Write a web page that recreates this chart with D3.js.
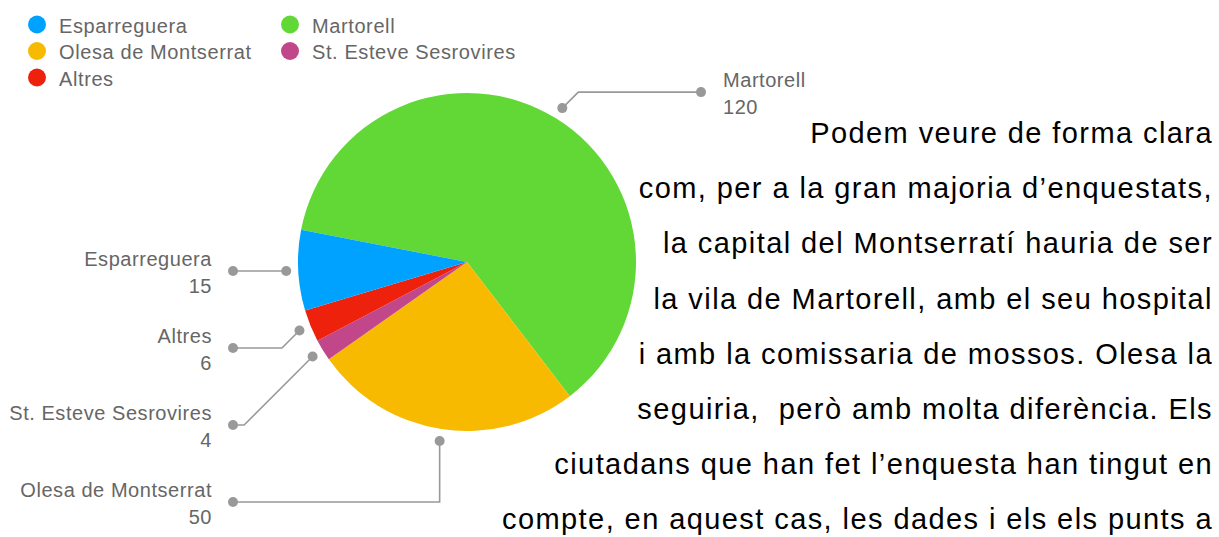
<!DOCTYPE html>
<html>
<head>
<meta charset="utf-8">
<script src="https://cdn.jsdelivr.net/npm/d3@7"></script>
<style>
  html, body { margin: 0; padding: 0; background: #fff; }
  svg { display: block; font-family: 'Liberation Sans', Arial, Helvetica, sans-serif; }
</style>
</head>
<body>
<div id="chart"></div>
<script>
// data
const categories = ['Martorell', 'Olesa de Montserrat', 'St. Esteve Sesrovires', 'Altres', 'Esparreguera'];
const values = [120, 50, 4, 6, 15];
const sliceColors = ['#61d836', '#f8ba00', '#c1478a', '#ee220c', '#00a2ff'];
const legendOrder = ['Esparreguera', 'Martorell', 'Olesa de Montserrat', 'St. Esteve Sesrovires', 'Altres'];
const paragraph = [
  'Podem veure de forma clara',
  'com, per a la gran majoria d\u2019enquestats,',
  'la capital del Montserratí hauria de ser',
  'la vila de Martorell, amb el seu hospital',
  'i amb la comissaria de mossos. Olesa la',
  'seguiria,  però amb molta diferència. Els',
  'ciutadans que han fet l\u2019enquesta han tingut en',
  'compte, en aquest cas, les dades i els els punts a'
];

const width = 1219;
const height = 537;
const cx = 467, cy = 262, radius = 169;
const dotRadius = 181;
const startDeg = -79;

const data = categories.map((name, i) => ({ name, value: values[i], color: sliceColors[i] }));
const colorOf = d3.scaleOrdinal().domain(categories).range(sliceColors);

const svg = d3.select('#chart')
  .append('svg')
  .attr('width', width)
  .attr('height', height);

// pie
const pie = d3.pie()
  .sort(null)
  .value(d => d.value)
  .startAngle(startDeg * Math.PI / 180)
  .endAngle((startDeg + 360) * Math.PI / 180);

const arc = d3.arc().innerRadius(0).outerRadius(radius);
const arcs = pie(data);

const pieG = svg.append('g').attr('transform', `translate(${cx},${cy})`);
pieG.selectAll('path')
  .data(arcs)
  .enter()
  .append('path')
  .attr('d', arc)
  .attr('fill', d => d.data.color);

// leader lines + labels
const leaders = arcs.map(a => {
  const mid = (a.startAngle + a.endAngle) / 2;
  const s = Math.sin(mid), c = Math.cos(mid);
  return {
    d: a.data, s,
    side: s > 0 ? 'right' : 'left',
    dot: [cx + dotRadius * s, cy - dotRadius * c]
  };
});

// spread left labels downwards so they don't overlap
const gap = 77;
const left = leaders.filter(l => l.side === 'left').sort((a, b) => a.dot[1] - b.dot[1]);
let prev = -Infinity;
left.forEach(l => {
  l.labelY = Math.max(l.dot[1], prev + gap);
  prev = l.labelY;
});
leaders.filter(l => l.side === 'right').forEach(l => { l.labelY = l.dot[1] - 16; });

const leftX = 233, rightX = 701;
leaders.forEach(l => {
  const dir = l.side === 'left' ? -1 : 1;
  const dy = Math.abs(l.labelY - l.dot[1]);
  const elbow = Math.abs(l.s) < 0.3 ? [l.dot[0], l.labelY] : [l.dot[0] + dir * dy, l.labelY];
  const end = [l.side === 'left' ? leftX : rightX, l.labelY];
  l.points = [l.dot, elbow, end];
  l.end = end;
});

const lg = svg.append('g');
lg.selectAll('path')
  .data(leaders)
  .enter()
  .append('path')
  .attr('d', l => d3.line()(l.points))
  .attr('fill', 'none')
  .attr('stroke', '#999')
  .attr('stroke-width', 1.6);

lg.selectAll('circle.dotIn')
  .data(leaders)
  .enter()
  .append('circle')
  .attr('cx', l => l.dot[0])
  .attr('cy', l => l.dot[1])
  .attr('r', 5)
  .attr('fill', '#999');

lg.selectAll('circle.dotOut')
  .data(leaders)
  .enter()
  .append('circle')
  .attr('cx', l => l.end[0])
  .attr('cy', l => l.end[1])
  .attr('r', 5)
  .attr('fill', '#999');

const labels = lg.selectAll('text')
  .data(leaders)
  .enter()
  .append('text')
  .attr('text-anchor', l => l.side === 'left' ? 'end' : 'start')
  .attr('fill', '#666')
  .style('font-size', '20px')
  .style('letter-spacing', '0.55px');

labels.append('tspan')
  .attr('x', l => l.side === 'left' ? l.end[0] - 21 : l.end[0] + 22)
  .attr('y', l => l.labelY - 5)
  .text(l => l.d.name);

labels.append('tspan')
  .attr('x', l => l.side === 'left' ? l.end[0] - 21 : l.end[0] + 22)
  .attr('y', l => l.labelY + 22)
  .text(l => l.d.value);

// legend (two columns)
const legend = svg.append('g');
const legItems = legend.selectAll('g')
  .data(legendOrder)
  .enter()
  .append('g')
  .attr('transform', (d, i) => `translate(${i % 2 === 0 ? 37 : 290},${24.5 + Math.floor(i / 2) * 26.5})`);

legItems.append('circle')
  .attr('r', 9)
  .attr('fill', d => colorOf(d));

legItems.append('text')
  .attr('x', 22)
  .attr('y', 8)
  .attr('fill', '#666')
  .style('font-size', '20px')
  .style('letter-spacing', '0.6px')
  .text(d => d);

// paragraph on the right
svg.append('g')
  .selectAll('text')
  .data(paragraph)
  .enter()
  .append('text')
  .attr('x', 1213)
  .attr('y', (d, i) => 143 + i * 55.2)
  .attr('text-anchor', 'end')
  .attr('fill', '#000')
  .style('font-size', '29px')
  .style('letter-spacing', '1.42px')
  .style('white-space', 'pre')
  .text(d => d);
</script>
</body>
</html>
